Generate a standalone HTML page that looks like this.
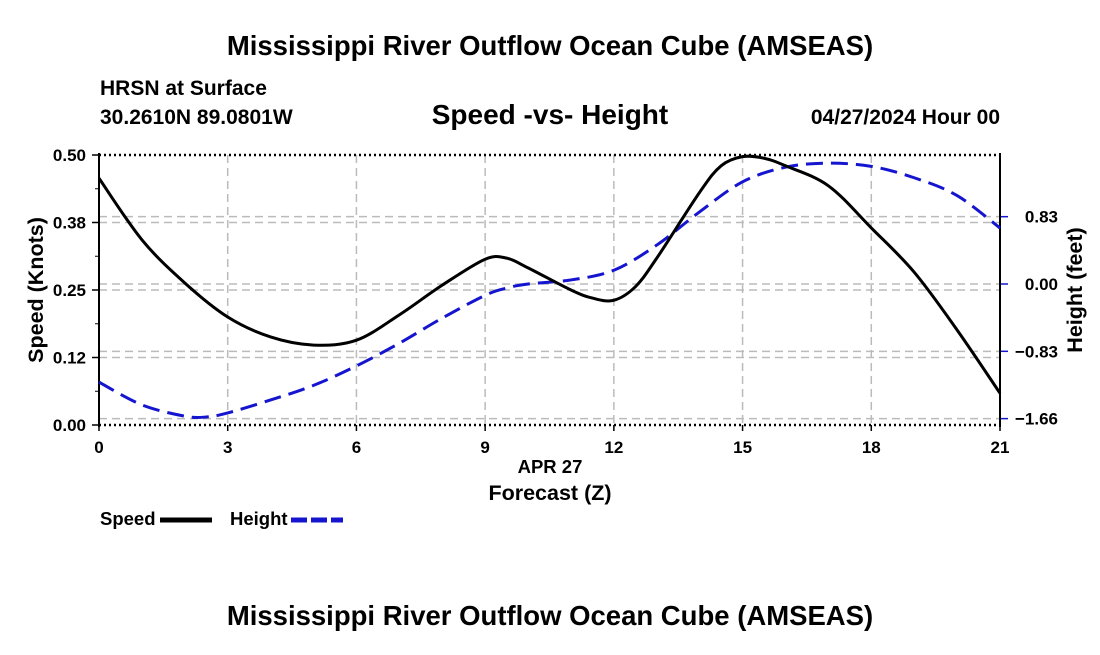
<!DOCTYPE html>
<html><head><meta charset="utf-8"><style>
body{margin:0;background:#fff;}
svg text{font-family:"Liberation Sans",Arial,sans-serif;font-weight:bold;fill:#000;}
</style></head><body>
<svg width="1100" height="650" xmlns="http://www.w3.org/2000/svg">
<text x="550" y="55" font-size="27.5" text-anchor="middle">Mississippi River Outflow Ocean Cube (AMSEAS)</text>
<text x="100" y="95" font-size="21">HRSN at Surface</text>
<text x="100" y="124" font-size="21">30.2610N  89.0801W</text>
<text x="550" y="124" font-size="28" text-anchor="middle">Speed -vs- Height</text>
<text x="1000" y="124" font-size="21" text-anchor="end">04/27/2024 Hour 00</text>
<g id="grid"></g>
<g id="axes"></g>
<g id="series"></g>
<text x="550" y="473" font-size="18.5" text-anchor="middle">APR 27</text>
<text x="550" y="500" font-size="21.5" text-anchor="middle">Forecast (Z)</text>
<text transform="translate(43,290) rotate(-90)" font-size="21.5" text-anchor="middle">Speed (Knots)</text>
<text transform="translate(1082,290) rotate(-90)" font-size="21.5" text-anchor="middle">Height (feet)</text>
<g>
<text x="100" y="525" font-size="18.5">Speed</text>
<line x1="160" y1="520" x2="212" y2="520" stroke="#000" stroke-width="5"/>
</g>
<g>
<text x="230" y="525" font-size="18.5">Height</text>
<line x1="291" y1="520" x2="343" y2="520" stroke="#1515d0" stroke-width="5" stroke-dasharray="16,4"/>
</g>
<text x="550" y="625" font-size="27.5" text-anchor="middle">Mississippi River Outflow Ocean Cube (AMSEAS)</text>
</svg>
<script>
const speedHours=[0,1,2,3,4,5,6,7,8,9,9.5,10,11,11.5,12,12.5,13,14,14.5,15,15.5,16,17,18,19,20,21];
const speedValues=[0.457,0.343,0.263,0.2,0.163,0.148,0.157,0.204,0.259,0.307,0.309,0.291,0.25,0.235,0.231,0.256,0.309,0.431,0.48,0.497,0.494,0.48,0.443,0.365,0.283,0.176,0.059];
const heightHours=[0,1,2,2.5,3,4,5,6,7,8,9,9.5,10,11,12,13,14,15,16,17,18,19,20,21];
const heightValues=[-1.21,-1.49,-1.63,-1.64,-1.59,-1.43,-1.25,-1.01,-0.73,-0.42,-0.14,-0.05,0,0.05,0.17,0.48,0.89,1.26,1.44,1.49,1.45,1.31,1.09,0.69];
const xTicks=[0,3,6,9,12,15,18,21];
const speedTicks=[0,0.125,0.25,0.375,0.5];
const speedTickLabels=["0.00","0.12","0.25","0.38","0.50"];
const heightTicks=[-1.66,-0.83,0,0.83];
const heightTickLabels=["\u22121.66","\u22120.83","0.00","0.83"];
const NS="http://www.w3.org/2000/svg";
const X0=99,X1=1000,Y0=425,Y1=155;
const xs=h=>X0+h/21*(X1-X0);
const ys=s=>Y0-s/0.5*(Y0-Y1);
const yh=v=>284-v*81.1;
function mk(tag,attrs,parent){const e=document.createElementNS(NS,tag);for(const k in attrs)e.setAttribute(k,attrs[k]);parent.appendChild(e);return e;}
const grid=document.getElementById('grid'),axes=document.getElementById('axes'),series=document.getElementById('series');
xTicks.forEach((t,i)=>{
 const x=xs(t);
 if(t>0&&t<21){const l=mk('line',{x1:x,y1:Y1,x2:x,y2:Y0,stroke:'#bbb','stroke-width':1.5,'stroke-dasharray':'8,5'},grid);
 
 }
 const tk=mk('line',{x1:x,y1:Y0,x2:x,y2:Y0+6,stroke:'#000','stroke-width':1.5},axes);
 
 
 const tx=mk('text',{x:x,y:Y0+28,'font-size':17,'text-anchor':'middle'},axes);tx.textContent=t;
 
 
});
speedTicks.forEach((t,i)=>{
 const y=ys(t);
 if(t>0&&t<0.5){const l=mk('line',{x1:X0,y1:y,x2:X1,y2:y,stroke:'#bbb','stroke-width':1.5,'stroke-dasharray':'8,5'},grid);
 
 }
 const tk=mk('line',{x1:X0-7,y1:y,x2:X0,y2:y,stroke:'#000','stroke-width':1.5},axes);
 
 
 const tx=mk('text',{x:X0-13,y:y+6,'font-size':17,'text-anchor':'end'},axes);tx.textContent=speedTickLabels[i];
 
 
});
for(let t=0.0625;t<0.5;t+=0.125){const y=ys(t);const m=mk('line',{x1:X0-4,y1:y,x2:X0,y2:y,stroke:'#000','stroke-width':1},axes);
 
 }
heightTicks.forEach((t,i)=>{
 const y=yh(t);
 const l=mk('line',{x1:X0,y1:y,x2:X1,y2:y,stroke:'#bbb','stroke-width':1.5,'stroke-dasharray':'8,5'},grid);
 
 
 const tk=mk('line',{x1:X1,y1:y,x2:X1+8,y2:y,stroke:'#1515d0','stroke-width':1.5},axes);
 
 
 const tx=mk('text',{x:X1+58,y:y+6,'font-size':17,'text-anchor':'end'},axes);tx.textContent=heightTickLabels[i];
 
 
});
[Y1,Y0].forEach(y=>{const l=mk('line',{x1:X0,y1:y,x2:X1,y2:y,stroke:'#000','stroke-width':2.5,'stroke-dasharray':'2,3'},axes);
 
 });
[X0,X1].forEach(x=>{const l=mk('line',{x1:x,y1:Y1-2,x2:x,y2:Y0+2,stroke:'#000','stroke-width':2},axes);
 
 });
function smooth(pts){let d='M'+pts[0][0]+','+pts[0][1];
 for(let i=0;i<pts.length-1;i++){const p0=pts[Math.max(0,i-1)],p1=pts[i],p2=pts[i+1],p3=pts[Math.min(pts.length-1,i+2)];
 const c1=[p1[0]+(p2[0]-p0[0])/6,p1[1]+(p2[1]-p0[1])/6],c2=[p2[0]-(p3[0]-p1[0])/6,p2[1]-(p3[1]-p1[1])/6];
 d+=' C'+c1+' '+c2+' '+p2;}return d;}
const hp=mk('path',{d:smooth(heightHours.map((h,i)=>[xs(h),yh(heightValues[i])])),fill:'none',stroke:'#1515d0','stroke-width':3,'stroke-dasharray':'17,8'},series);


const sp=mk('path',{d:smooth(speedHours.map((h,i)=>[xs(h),ys(speedValues[i])])),fill:'none',stroke:'#000','stroke-width':3},series);


</script>
</body></html>
